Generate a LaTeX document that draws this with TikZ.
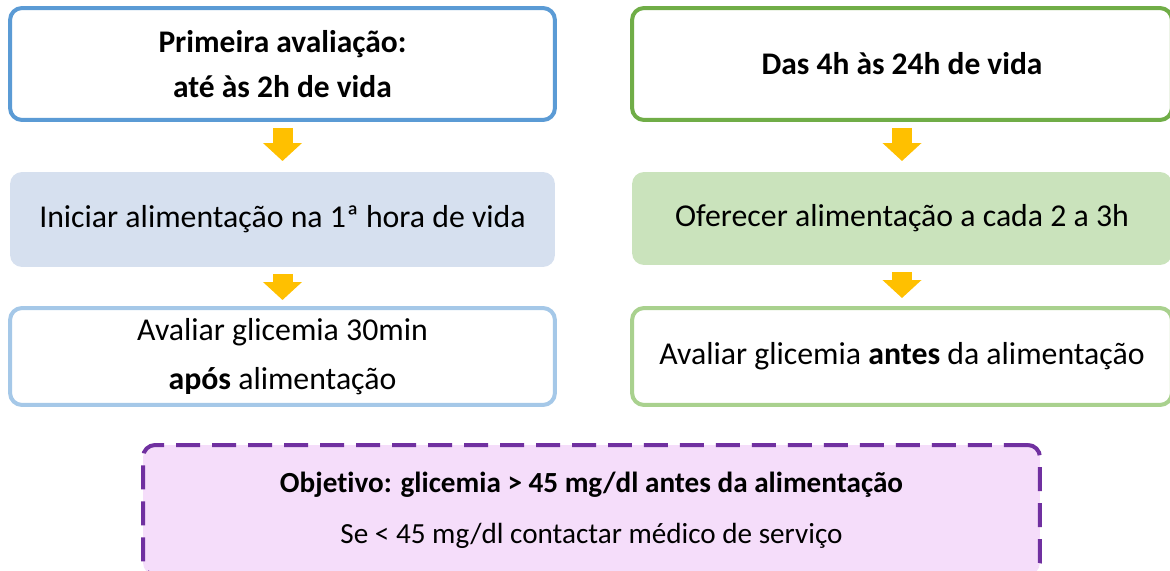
\documentclass[tikz,border=0pt]{standalone}
\usepackage{fontspec}
\setmainfont{Carlito}[Ligatures=NoCommon]
\usepackage{tikz}
\usetikzlibrary{arrows.meta}
\usepackage{xcolor}
\definecolor{ColBlue}{RGB}{91,155,213}
\definecolor{ColBlueFill}{RGB}{214,224,239}
\definecolor{ColBlueLight}{RGB}{165,200,232}
\definecolor{ColGreen}{RGB}{112,173,71}
\definecolor{ColGreenFill}{RGB}{202,227,188}
\definecolor{ColGreenLight}{RGB}{169,209,142}
\definecolor{ColArrow}{RGB}{255,192,0}
\definecolor{ColPurple}{RGB}{112,48,160}
\definecolor{ColPurpleFill}{RGB}{245,221,250}
\tikzstyle{StepBox}=[rectangle,rounded corners=0.24cm,line width=0.08cm,align=center,
font=\fontsize{18.1}{22}\selectfont,inner sep=0pt]
\tikzstyle{TitleBox}=[StepBox,draw,fill=white,font=\fontsize{17.9}{22}\selectfont\bfseries]
\tikzstyle{FillBox}=[StepBox,draw=none]
\tikzstyle{GoalBox}=[StepBox,draw=ColPurple,fill=ColPurpleFill,dash pattern=on 0.48cm off 0.24cm,
font=\fontsize{16.6}{20}\selectfont]
\tikzstyle{ArrowFlow}=[ColArrow,line width=0.4cm,-{Triangle[width=0.76cm,length=0.36cm]}]

\begin{document}
\begin{tikzpicture}[x=0.02cm,y=-0.02cm]
        \useasboundingbox(0,0)rectangle(1170,571);
        \node[TitleBox,draw=ColBlue,minimum width=10.9cm,minimum height=2.24cm](first)at(282.5,64){Primeira avaliação:\\[4pt]até às 2h de vida};
        \node[FillBox,fill=ColBlueFill,minimum width=10.9cm,minimum height=1.9cm](feedA)at(282.5,219.5){Iniciar alimentação na 1ª hora de vida};
        \node[StepBox,draw=ColBlueLight,fill=white,minimum width=10.9cm,minimum height=1.94cm](checkA)at(282.5,356.5){Avaliar glicemia 30min\\[6pt]\textbf{após} alimentação};
        \node[TitleBox,draw=ColGreen,minimum width=10.8cm,minimum height=2.24cm](later)at(902,64){Das 4h às 24h de vida};
        \node[FillBox,fill=ColGreenFill,minimum width=10.8cm,minimum height=1.86cm](feedB)at(902,218.5){Oferecer alimentação a cada 2 a 3h};
        \node[StepBox,draw=ColGreenLight,fill=white,minimum width=10.8cm,minimum height=1.94cm](checkB)at(902,356.5){Avaliar glicemia \textbf{antes} da alimentação};
        \node[GoalBox,minimum width=17.94cm,minimum height=2.6cm](goal)at(591.5,510){\textbf{Objetivo: glicemia > 45 mg/dl antes da alimentação}\\[9pt]Se < 45 mg/dl contactar médico de serviço};
        \draw[ArrowFlow,shorten <=0.12cm,shorten >=0.18cm](first.south)--(feedA.north);
        \draw[ArrowFlow,shorten <=0.1cm,shorten >=0.12cm](feedA.south)--(checkA.north);
        \draw[ArrowFlow,shorten <=0.12cm,shorten >=0.18cm](later.south)--(feedB.north);
        \draw[ArrowFlow,shorten <=0.1cm,shorten >=0.16cm](feedB.south)--(checkB.north);
    \end{tikzpicture}
\end{document}
